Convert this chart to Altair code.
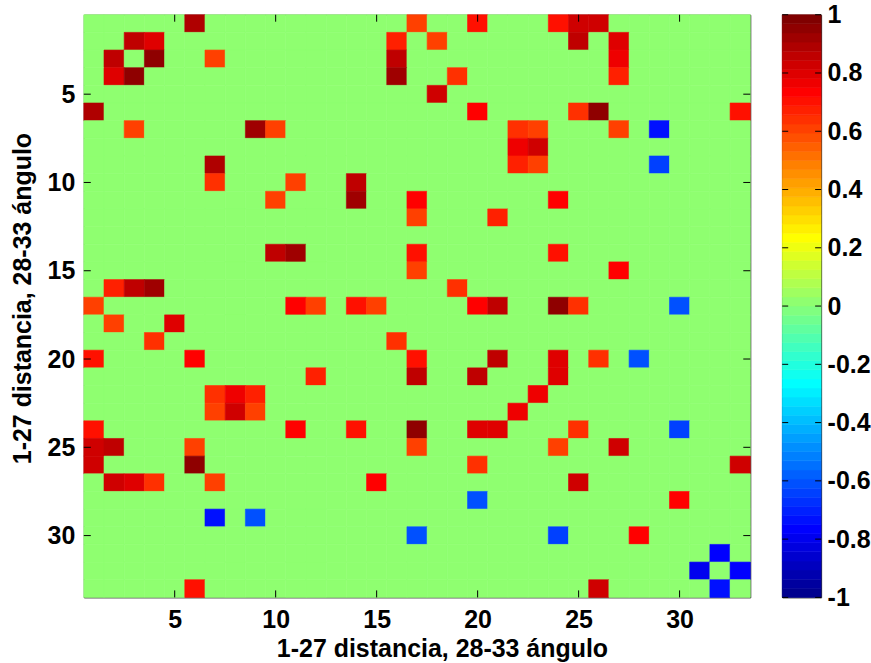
import math
import numpy as np
import pandas as pd
import altair as alt

# Matrix size (33 x 33): 1-27 distancia, 28-33 ángulo
N = 33

# Non-zero cells of the matrix (1-based row, column, value); all other cells are 0
cell_row = [
    1, 1, 1, 1, 1, 1,
    2, 2, 2, 2, 2, 2,
    3, 3, 3, 3, 3,
    4, 4, 4, 4, 4,
    5,
    6, 6, 6, 6, 6,
    7, 7, 7, 7, 7, 7, 7,
    8, 8,
    9, 9, 9, 9,
    10, 10, 10,
    11, 11, 11, 11,
    12, 12,
    14, 14, 14, 14,
    15, 15,
    16, 16, 16, 16,
    17, 17, 17, 17, 17, 17, 17, 17, 17, 17,
    18, 18,
    19, 19,
    20, 20, 20, 20, 20, 20, 20,
    21, 21, 21, 21,
    22, 22, 22, 22,
    23, 23, 23, 23,
    24, 24, 24, 24, 24, 24, 24, 24,
    25, 25, 25, 25, 25, 25,
    26, 26, 26, 26,
    27, 27, 27, 27, 27, 27,
    28, 28,
    29, 29,
    30, 30, 30,
    31,
    32, 32,
    33, 33, 33,
]
cell_col = [
    6, 17, 20, 24, 25, 26,
    3, 4, 16, 18, 25, 27,
    2, 4, 7, 16, 27,
    2, 3, 16, 19, 27,
    18,
    1, 20, 25, 26, 33,
    3, 9, 10, 22, 23, 27, 29,
    22, 23,
    7, 22, 23, 29,
    7, 11, 14,
    10, 14, 17, 24,
    17, 21,
    10, 11, 17, 24,
    17, 27,
    2, 3, 4, 19,
    1, 11, 12, 14, 15, 20, 21, 24, 25, 30,
    2, 5,
    4, 16,
    1, 6, 17, 21, 24, 26, 28,
    12, 17, 20, 24,
    7, 8, 9, 23,
    7, 8, 9, 22,
    1, 11, 14, 17, 20, 21, 25, 30,
    1, 2, 6, 17, 24, 27,
    1, 6, 20, 33,
    2, 3, 4, 7, 15, 25,
    20, 30,
    7, 9,
    17, 24, 28,
    32,
    31, 33,
    6, 26, 32,
]
cell_val = [
    0.89, 0.61, 0.70, 0.70, 0.83, 0.83,
    0.86, 0.80, 0.67, 0.61, 0.86, 0.80,
    0.86, 0.95, 0.61, 0.86, 0.77,
    0.80, 0.95, 0.92, 0.64, 0.67,
    0.83,
    0.89, 0.73, 0.64, 0.95, 0.70,
    0.61, 0.92, 0.61, 0.64, 0.61, 0.61, -0.73,
    0.77, 0.83,
    0.89, 0.67, 0.61, -0.64,
    0.64, 0.61, 0.86,
    0.61, 0.92, 0.73, 0.73,
    0.61, 0.67,
    0.86, 0.92, 0.70, 0.70,
    0.61, 0.73,
    0.67, 0.86, 0.92, 0.64,
    0.61, 0.73, 0.61, 0.70, 0.61, 0.73, 0.86, 0.95, 0.64, -0.61,
    0.61, 0.80,
    0.64, 0.64,
    0.70, 0.73, 0.70, 0.86, 0.80, 0.64, -0.61,
    0.67, 0.86, 0.86, 0.80,
    0.64, 0.77, 0.67, 0.77,
    0.61, 0.83, 0.61, 0.77,
    0.70, 0.73, 0.70, 0.95, 0.80, 0.80, 0.64, -0.64,
    0.83, 0.86, 0.61, 0.61, 0.61, 0.83,
    0.83, 0.95, 0.64, 0.83,
    0.83, 0.80, 0.64, 0.61, 0.73, 0.83,
    -0.61, 0.73,
    -0.73, -0.61,
    -0.61, -0.64, 0.73,
    -0.77,
    -0.80, -0.77,
    0.70, 0.83, -0.73,
]

tick_values = [5, 10, 15, 20, 25, 30]
bar_ticks = [-1, -0.8, -0.6, -0.4, -0.2, 0, 0.2, 0.4, 0.6, 0.8, 1]
axis_label = "1-27 distancia, 28-33 ángulo"


def jet(m=64):
    """MATLAB-style jet colormap with m entries, as hex strings."""
    n = math.ceil(m / 4)
    u = np.concatenate([np.arange(1, n + 1) / n, np.ones(n - 1), np.arange(n, 0, -1) / n])
    g = math.ceil(n / 2) - (1 if m % 4 == 1 else 0) + np.arange(1, len(u) + 1)
    r = g + n
    b = g - n
    cmap = np.zeros((m, 3))
    for ch, idx in ((0, r), (1, g), (2, b)):
        ok = (idx >= 1) & (idx <= m)
        cmap[idx[ok] - 1, ch] = u[ok]
    return ["#%02x%02x%02x" % tuple(int(round(c * 255)) for c in row) for row in cmap]


JET = jet(64)

# Full matrix as long-form table
grid = np.zeros((N, N))
for r, c, v in zip(cell_row, cell_col, cell_val):
    grid[r - 1, c - 1] = v
rr, cc = np.meshgrid(np.arange(1, N + 1), np.arange(1, N + 1), indexing="ij")
cells = pd.DataFrame({"row": rr.ravel(), "col": cc.ravel(), "value": grid.ravel()})

W, H = 668, 584
CBW = 39
FONT = "Liberation Sans"
FS = 25

xs = alt.Scale(domain=[0.5, N + 0.5], nice=False, zero=False)
ys = alt.Scale(domain=[0.5, N + 0.5], nice=False, zero=False, reverse=True)
cs = alt.Scale(type="quantize", domain=[-1, 1], range=JET)

x_axis = alt.Axis(
    values=tick_values, tickSize=0, domain=False, grid=False,
    labelPadding=10, title=axis_label, titlePadding=4,
    titleX=359, labelFlush=False,
)
y_axis = alt.Axis(
    values=tick_values, tickSize=0, domain=False, grid=False,
    labelPadding=9, title=axis_label, titlePadding=12,
    titleY=284, labelFlush=False,
)

heat = (
    alt.Chart(cells)
    .transform_calculate(
        x0="datum.col - 0.5", x1="datum.col + 0.5",
        y0="datum.row - 0.5", y1="datum.row + 0.5",
    )
    .mark_rect(strokeWidth=0.6)
    .encode(
        x=alt.X("x0:Q", scale=xs, axis=x_axis),
        x2="x1:Q",
        y=alt.Y("y0:Q", scale=ys, axis=y_axis),
        y2="y1:Q",
        color=alt.Color("value:Q", scale=cs, legend=None),
        stroke=alt.Stroke("value:Q", scale=cs, legend=None),
    )
)

ticks = pd.DataFrame({"t": tick_values})
tick_len = 7
x_ticks_bottom = alt.Chart(ticks).mark_rule(color="black").encode(
    x=alt.X("t:Q", scale=xs, axis=x_axis), y=alt.value(H - tick_len), y2=alt.value(H)
)
x_ticks_top = alt.Chart(ticks).mark_rule(color="black").encode(
    x=alt.X("t:Q", scale=xs, axis=x_axis), y=alt.value(0), y2=alt.value(tick_len)
)
y_ticks_left = alt.Chart(ticks).mark_rule(color="black").encode(
    y=alt.Y("t:Q", scale=ys, axis=y_axis), x=alt.value(0), x2=alt.value(tick_len)
)
y_ticks_right = alt.Chart(ticks).mark_rule(color="black").encode(
    y=alt.Y("t:Q", scale=ys, axis=y_axis), x=alt.value(W - tick_len), x2=alt.value(W)
)

heat_panel = alt.layer(
    heat, x_ticks_bottom, x_ticks_top, y_ticks_left, y_ticks_right
).properties(width=W, height=H)

# Colour bar: one band per colormap entry
n_bands = len(JET)
bands = pd.DataFrame({
    "lo": [-1 + 2 * i / n_bands for i in range(n_bands)],
    "hi": [-1 + 2 * (i + 1) / n_bands for i in range(n_bands)],
    "hex": JET,
})
cbs = alt.Scale(domain=[-1, 1], nice=False, zero=False)
cb_axis = alt.Axis(
    orient="right", values=bar_ticks, labelExpr="'' + datum.value",
    tickSize=0, domain=False, grid=False, labelPadding=6, title=None,
    labelFlush=False, labelOverlap=False,
)
bar = alt.Chart(bands).mark_rect(strokeWidth=0.6).encode(
    y=alt.Y("lo:Q", scale=cbs, axis=cb_axis),
    y2="hi:Q",
    x=alt.value(0),
    x2=alt.value(CBW),
    color=alt.Color("hex:N", scale=None),
    stroke=alt.Stroke("hex:N", scale=None),
)
bt = pd.DataFrame({"t": bar_ticks})
bar_ticks_left = alt.Chart(bt).mark_rule(color="black").encode(
    y=alt.Y("t:Q", scale=cbs, axis=cb_axis), x=alt.value(0), x2=alt.value(6)
)
bar_ticks_right = alt.Chart(bt).mark_rule(color="black").encode(
    y=alt.Y("t:Q", scale=cbs, axis=cb_axis), x=alt.value(CBW - 6), x2=alt.value(CBW)
)
bar_panel = alt.layer(bar, bar_ticks_left, bar_ticks_right).properties(width=CBW, height=H)

chart = (
    alt.hconcat(heat_panel, bar_panel, spacing=30)
    .properties(padding={"left": 9, "top": 1, "right": 0, "bottom": 0}, background="white")
    .configure(font=FONT)
    .configure_view(stroke="#222222", strokeWidth=1)
    .configure_axis(
        labelFont=FONT, labelFontSize=FS, labelFontWeight="bold", labelColor="black",
        titleFont=FONT, titleFontSize=FS, titleFontWeight="bold", titleColor="black",
    )
)

chart.save("out.html", embed_options={"renderer": "svg", "actions": False})
